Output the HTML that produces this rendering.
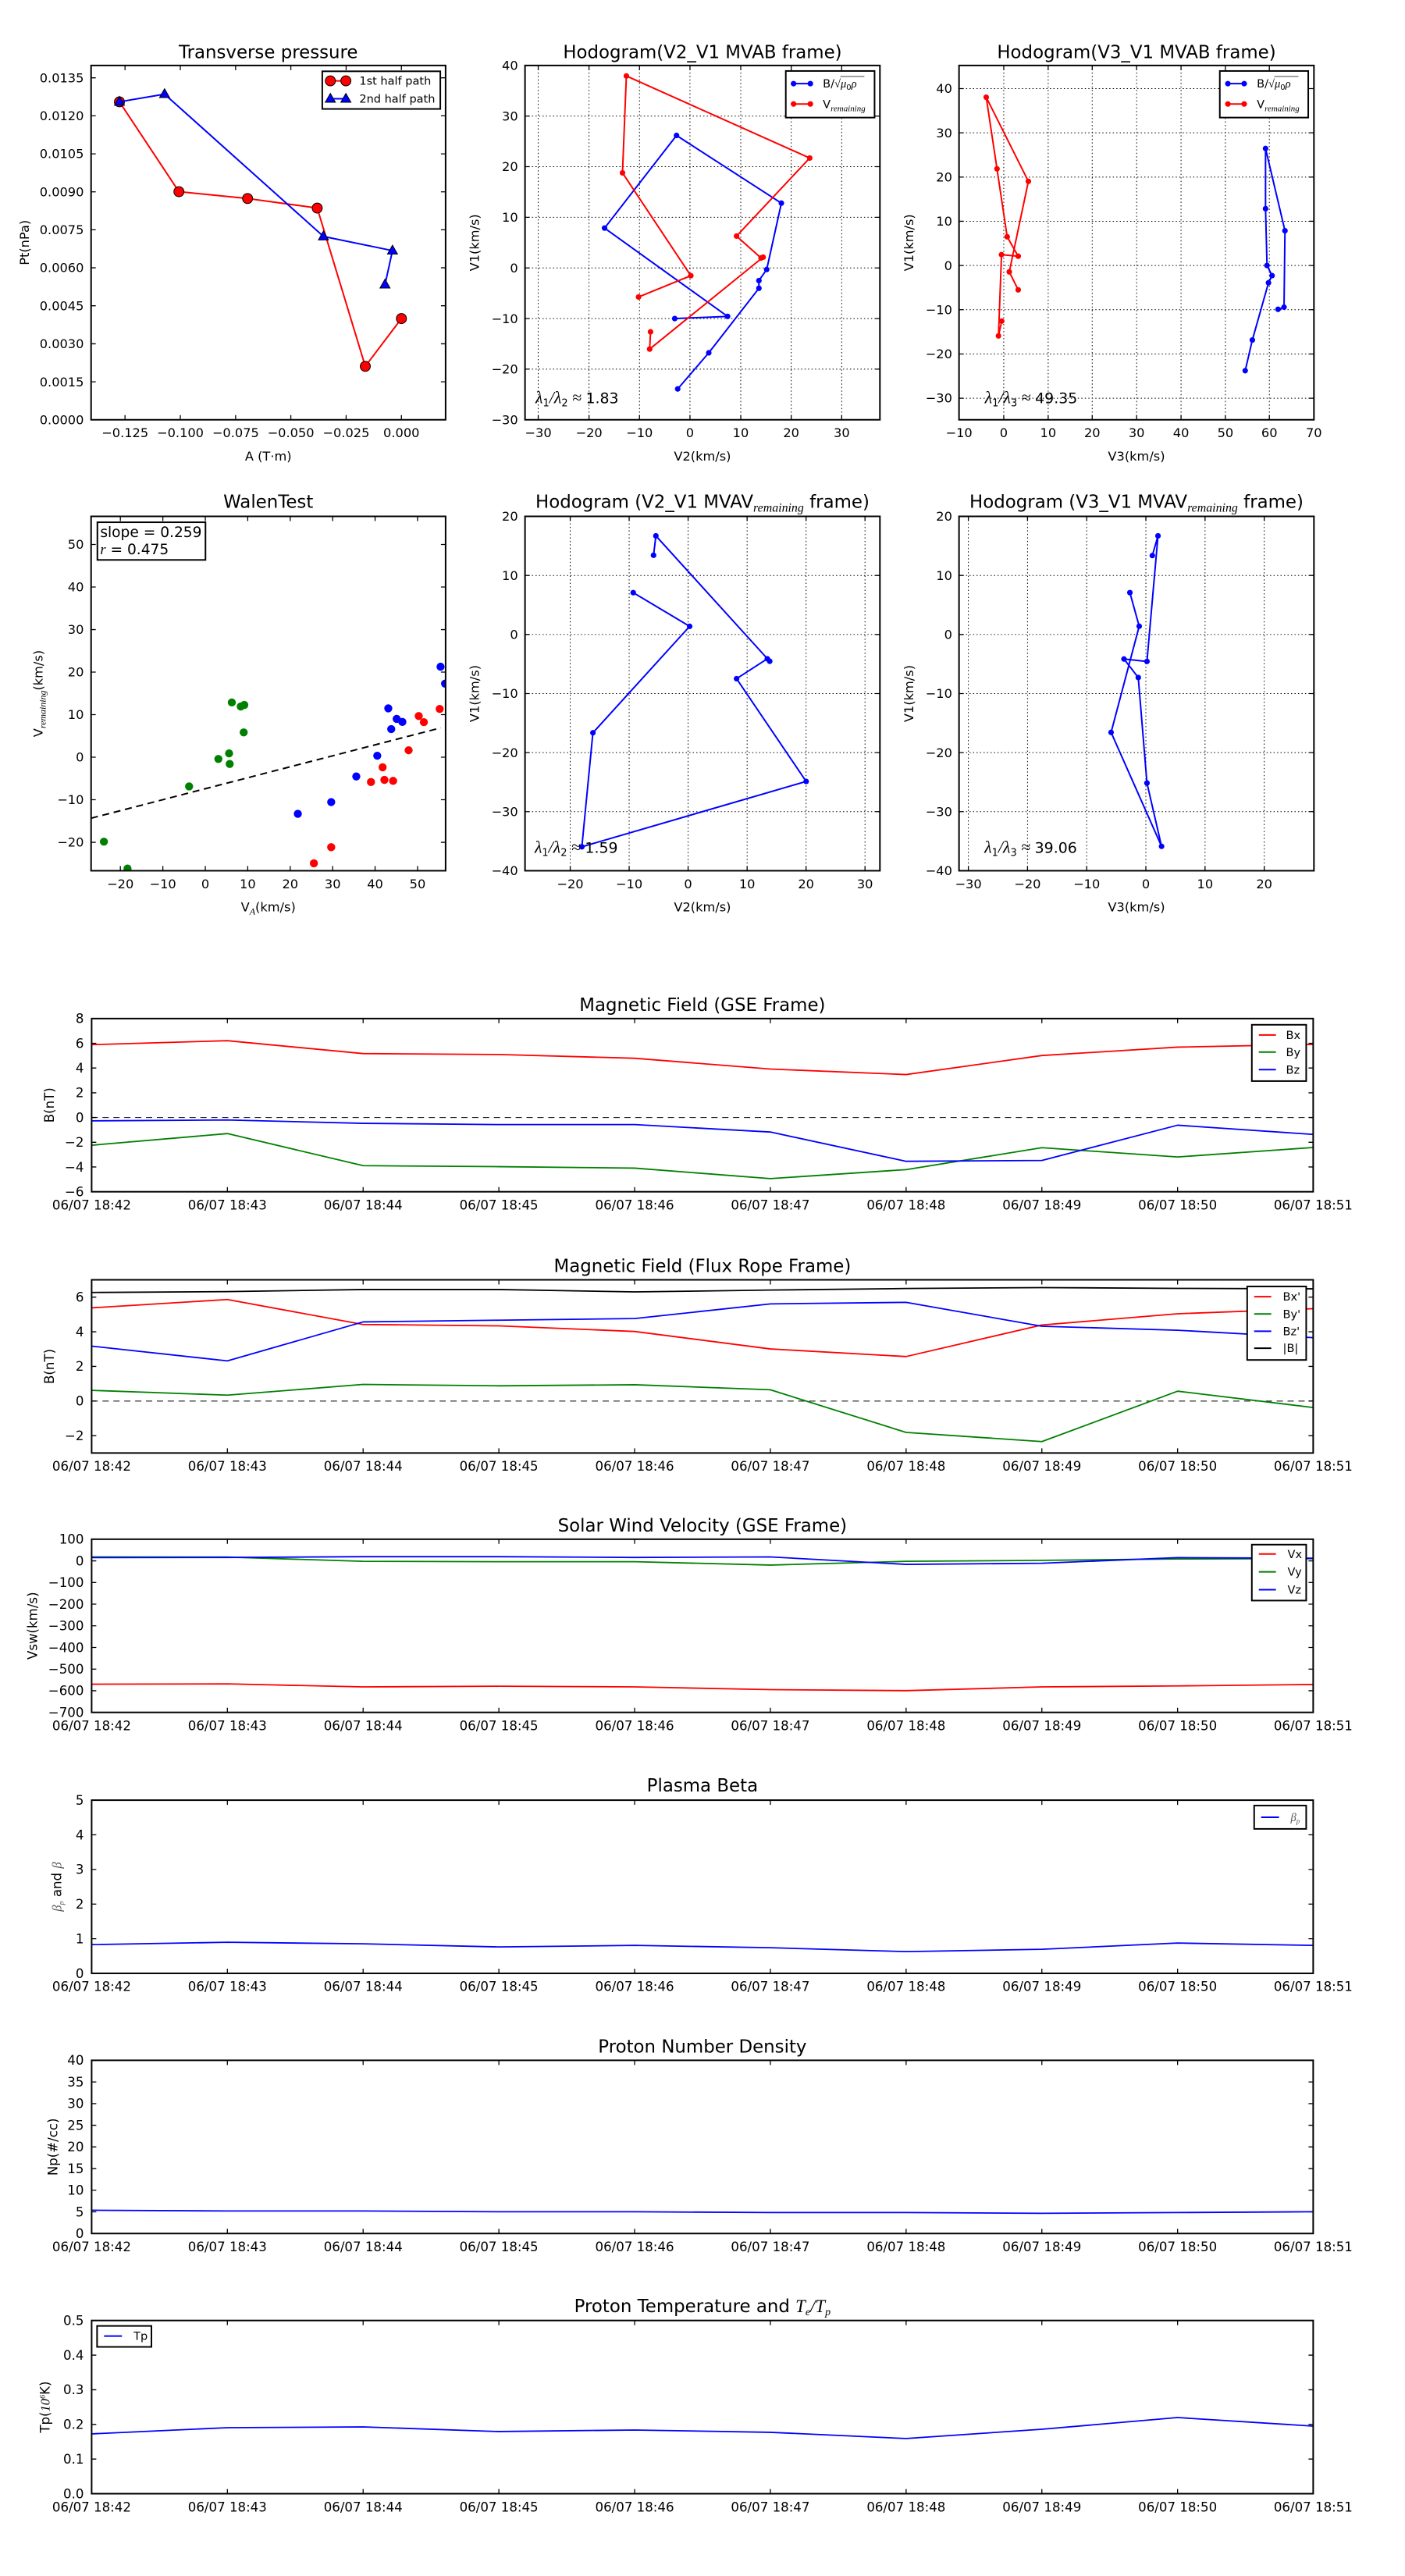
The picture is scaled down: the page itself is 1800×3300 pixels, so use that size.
<!DOCTYPE html>
<html><head><meta charset="utf-8"><style>
html,body{margin:0;padding:0;background:#fff;}
svg{display:block;}
text{font-family:"DejaVu Sans","Liberation Sans",sans-serif;fill:#000;}
.t{font-size:16.3px}
.tt{font-size:23px}
.ts{font-size:16.7px}
.lg{font-size:14.6px}
.lam{font-size:19px}
.m{font-family:"Liberation Serif","DejaVu Serif",serif;font-style:italic}
.sp{fill:none;stroke:#000;stroke-width:2}
.tk{fill:none;stroke:#000;stroke-width:1.3}
.gr{fill:none;stroke:#000;stroke-width:1;stroke-dasharray:1.5 3}
.ln{fill:none;stroke-width:2;stroke-linejoin:round}
.l2{fill:none;stroke-width:1.8;stroke-linejoin:round}
.zd{fill:none;stroke:#000;stroke-width:1;stroke-dasharray:8 6}
</style></head><body>
<svg width="1800" height="3300" viewBox="0 0 1800 3300" xmlns="http://www.w3.org/2000/svg">
<defs>
<path id="tri" d="M0,-7L6.5,4.5L-6.5,4.5Z"/>
<clipPath id="cw"><rect x="117.3" y="661.7" width="456.5" height="456.3"/></clipPath>
</defs>
<rect width="1800" height="3300" fill="#fff"/>

<!-- ===== Panel 1: Transverse pressure ===== -->
<g transform="scale(0.9949)">
<text class="tt" x="345.5" y="66.8" dy=".35em" text-anchor="middle">Transverse pressure</text>
<path class="tk" d="M161 540.5v-6M161 84.3v6M232.2 540.5v-6M232.2 84.3v6M303.4 540.5v-6M303.4 84.3v6M374.5 540.5v-6M374.5 84.3v6M445.7 540.5v-6M445.7 84.3v6M516.9 540.5v-6M516.9 84.3v6M117.3 491.6h6M573.8 491.6h-6M117.3 442.7h6M573.8 442.7h-6M117.3 393.7h6M573.8 393.7h-6M117.3 344.8h6M573.8 344.8h-6M117.3 295.9h6M573.8 295.9h-6M117.3 247h6M573.8 247h-6M117.3 198.1h6M573.8 198.1h-6M117.3 149.1h6M573.8 149.1h-6M117.3 100.2h6M573.8 100.2h-6"/>
<g class="t" text-anchor="middle">
<text x="161" y="557.2" dy=".35em">−0.125</text>
<text x="232.2" y="557.2" dy=".35em">−0.100</text>
<text x="303.4" y="557.2" dy=".35em">−0.075</text>
<text x="374.5" y="557.2" dy=".35em">−0.050</text>
<text x="445.7" y="557.2" dy=".35em">−0.025</text>
<text x="516.9" y="557.2" dy=".35em">0.000</text>
</g>
<g class="t" text-anchor="end">
<text x="108" y="540.5" dy=".35em">0.0000</text>
<text x="108" y="491.6" dy=".35em">0.0015</text>
<text x="108" y="442.7" dy=".35em">0.0030</text>
<text x="108" y="393.7" dy=".35em">0.0045</text>
<text x="108" y="344.8" dy=".35em">0.0060</text>
<text x="108" y="295.9" dy=".35em">0.0075</text>
<text x="108" y="247" dy=".35em">0.0090</text>
<text x="108" y="198.1" dy=".35em">0.0105</text>
<text x="108" y="149.1" dy=".35em">0.0120</text>
<text x="108" y="100.2" dy=".35em">0.0135</text>
</g>
<text class="t" x="345.5" y="587.4" dy=".35em" text-anchor="middle">A (T·m)</text>
<text class="t" transform="translate(31.5,312.4) rotate(-90)" dy=".35em" text-anchor="middle">Pt(nPa)</text>
<polyline class="ln" stroke="#f00" points="153.8,131.1 230.4,246.8 318.8,255.6 408.5,267.9 470.4,471.7 516.9,410.2"/>
<g fill="#f00" stroke="#000" stroke-width="1">
<circle cx="153.8" cy="131.1" r="6.5"/><circle cx="230.4" cy="246.8" r="6.5"/><circle cx="318.8" cy="255.6" r="6.5"/><circle cx="408.5" cy="267.9" r="6.5"/><circle cx="470.4" cy="471.7" r="6.5"/><circle cx="516.9" cy="410.2" r="6.5"/>
</g>
<polyline class="ln" stroke="#00f" points="153.8,131.1 211.9,121.2 416.5,304.4 505.4,322.7 495.8,366.4"/>
<g fill="#00f" stroke="#000" stroke-width="1">
<use href="#tri" x="153.8" y="131.1"/><use href="#tri" x="211.9" y="121.2"/><use href="#tri" x="416.5" y="304.4"/><use href="#tri" x="505.4" y="322.7"/><use href="#tri" x="495.8" y="366.4"/>
</g>
<rect class="sp" x="117.3" y="84.3" width="456.5" height="456.2"/>
<rect x="415" y="91.8" width="152" height="48.5" fill="#fff" stroke="#000" stroke-width="2"/>
<line x1="425.4" y1="104.1" x2="445.4" y2="104.1" stroke="#f00" stroke-width="2"/>
<circle cx="425.4" cy="104.1" r="6.5" fill="#f00" stroke="#000"/><circle cx="445.4" cy="104.1" r="6.5" fill="#f00" stroke="#000"/>
<text class="lg" x="462.7" y="104.1" dy=".35em">1st half path</text>
<line x1="425.4" y1="127.2" x2="445.4" y2="127.2" stroke="#00f" stroke-width="2"/>
<use href="#tri" x="425.4" y="127.2" fill="#00f" stroke="#000"/><use href="#tri" x="445.4" y="127.2" fill="#00f" stroke="#000"/>
<text class="lg" x="462.7" y="127.2" dy=".35em">2nd half path</text>
</g>

<!-- ===== Panel 2: Hodogram V2_V1 MVAB ===== -->
<g transform="translate(600,0) scale(0.9949) translate(-600,0)">
<text class="tt" x="901.5" y="66.8" dy=".35em" text-anchor="middle">Hodogram(V2_V1 MVAB frame)</text>
<path class="gr" d="M690 84.3V540.5M755.4 84.3V540.5M820.4 84.3V540.5M885.4 84.3V540.5M950.8 84.3V540.5M1015.8 84.3V540.5M1080.8 84.3V540.5M673 149.5H1130M673 214.6H1130M673 279.8H1130M673 345H1130M673 410.2H1130M673 475.3H1130"/>
<path class="tk" d="M690 540.5v-6M690 84.3v6M755.4 540.5v-6M755.4 84.3v6M820.4 540.5v-6M820.4 84.3v6M885.4 540.5v-6M885.4 84.3v6M950.8 540.5v-6M950.8 84.3v6M1015.8 540.5v-6M1015.8 84.3v6M1080.8 540.5v-6M1080.8 84.3v6M673 149.5h6M1130 149.5h-6M673 214.6h6M1130 214.6h-6M673 279.8h6M1130 279.8h-6M673 345h6M1130 345h-6M673 410.2h6M1130 410.2h-6M673 475.3h6M1130 475.3h-6"/>
<g class="t" text-anchor="middle">
<text x="690" y="557.2" dy=".35em">−30</text><text x="755.4" y="557.2" dy=".35em">−20</text><text x="820.4" y="557.2" dy=".35em">−10</text><text x="885.4" y="557.2" dy=".35em">0</text><text x="950.8" y="557.2" dy=".35em">10</text><text x="1015.8" y="557.2" dy=".35em">20</text><text x="1080.8" y="557.2" dy=".35em">30</text>
</g>
<g class="t" text-anchor="end">
<text x="664" y="84.3" dy=".35em">40</text><text x="664" y="149.5" dy=".35em">30</text><text x="664" y="214.6" dy=".35em">20</text><text x="664" y="279.8" dy=".35em">10</text><text x="664" y="345" dy=".35em">0</text><text x="664" y="410.2" dy=".35em">−10</text><text x="664" y="475.3" dy=".35em">−20</text><text x="664" y="540.5" dy=".35em">−30</text>
</g>
<text class="t" x="901.5" y="587.4" dy=".35em" text-anchor="middle">V2(km/s)</text>
<text class="t" transform="translate(607.7,312.4) rotate(-90)" dy=".35em" text-anchor="middle">V1(km/s)</text>
<polyline class="ln" stroke="#00f" points="865.8,410.2 933.8,407.4 775.4,293.7 868.1,174.4 1003.1,261.6 984.2,347 974.2,361.3 974.2,371.2 909.6,454.3 869.6,500.8"/>
<g fill="#00f"><circle cx="865.8" cy="410.2" r="3.6"/><circle cx="933.8" cy="407.4" r="3.6"/><circle cx="775.4" cy="293.7" r="3.6"/><circle cx="868.1" cy="174.4" r="3.6"/><circle cx="1003.1" cy="261.6" r="3.6"/><circle cx="984.2" cy="347" r="3.6"/><circle cx="974.2" cy="361.3" r="3.6"/><circle cx="974.2" cy="371.2" r="3.6"/><circle cx="909.6" cy="454.3" r="3.6"/><circle cx="869.6" cy="500.8" r="3.6"/></g>
<polyline class="ln" stroke="#f00" points="834.6,427.3 833.5,449.5 979.6,331.1 976.9,332.2 945.4,304 1039.6,203.5 803.5,97.8 798.5,222.6 886.5,355 819.2,382.4"/>
<g fill="#f00"><circle cx="834.6" cy="427.3" r="3.6"/><circle cx="833.5" cy="449.5" r="3.6"/><circle cx="979.6" cy="331.1" r="3.6"/><circle cx="976.9" cy="332.2" r="3.6"/><circle cx="945.4" cy="304" r="3.6"/><circle cx="1039.6" cy="203.5" r="3.6"/><circle cx="803.5" cy="97.8" r="3.6"/><circle cx="798.5" cy="222.6" r="3.6"/><circle cx="886.5" cy="355" r="3.6"/><circle cx="819.2" cy="382.4" r="3.6"/></g>
<text class="lam" x="686.5" y="512.7" dy=".35em"><tspan class="m" font-size="22">λ</tspan><tspan font-size="13" dy="4">1</tspan><tspan class="m" font-size="22" dy="-4">/λ</tspan><tspan font-size="13" dy="4">2</tspan><tspan class="m" font-size="22" dy="-4"> ≈ </tspan>1.83</text>
<rect class="sp" x="673" y="84.3" width="457" height="456.2"/>
<rect x="1008.8" y="91.4" width="114.3" height="60" fill="#fff" stroke="#000" stroke-width="2"/>
<line x1="1018.8" y1="107.7" x2="1040.4" y2="107.7" stroke="#00f" stroke-width="2"/>
<circle cx="1018.8" cy="107.7" r="3.6" fill="#00f"/><circle cx="1040.4" cy="107.7" r="3.6" fill="#00f"/>
<text class="lg" x="1056.5" y="107.7" dy=".35em">B/<tspan class="m" font-style="normal">√</tspan><tspan class="m">μ</tspan><tspan font-size="10" dy="3">0</tspan><tspan class="m" dy="-3">ρ</tspan></text>
<line x1="1079" y1="98.5" x2="1110" y2="98.5" stroke="#000" stroke-width="0.8"/>
<line x1="1018.8" y1="133.9" x2="1040.4" y2="133.9" stroke="#f00" stroke-width="2"/>
<circle cx="1018.8" cy="133.9" r="3.6" fill="#f00"/><circle cx="1040.4" cy="133.9" r="3.6" fill="#f00"/>
<text class="lg" x="1056.5" y="133.9" dy=".35em">V<tspan class="m" font-size="11" dy="4">remaining</tspan></text>
</g>

<!-- ===== Panel 3: Hodogram V3_V1 MVAB ===== -->
<g transform="translate(1200,0) scale(0.9949) translate(-1200,0)">
<text class="tt" x="1457.3" y="66.8" dy=".35em" text-anchor="middle">Hodogram(V3_V1 MVAB frame)</text>
<path class="gr" d="M1286.4 84.3V540.5M1343.6 84.3V540.5M1400.3 84.3V540.5M1457.5 84.3V540.5M1514.7 84.3V540.5M1571.8 84.3V540.5M1628.4 84.3V540.5M1228.8 114.1H1685.8M1228.8 171H1685.8M1228.8 228H1685.8M1228.8 284.9H1685.8M1228.8 341.9H1685.8M1228.8 398.8H1685.8M1228.8 455.8H1685.8M1228.8 512.7H1685.8"/>
<path class="tk" d="M1286.4 540.5v-6M1286.4 84.3v6M1343.6 540.5v-6M1343.6 84.3v6M1400.3 540.5v-6M1400.3 84.3v6M1457.5 540.5v-6M1457.5 84.3v6M1514.7 540.5v-6M1514.7 84.3v6M1571.8 540.5v-6M1571.8 84.3v6M1628.4 540.5v-6M1628.4 84.3v6M1228.8 114.1h6M1685.8 114.1h-6M1228.8 171h6M1685.8 171h-6M1228.8 228h6M1685.8 228h-6M1228.8 284.9h6M1685.8 284.9h-6M1228.8 341.9h6M1685.8 341.9h-6M1228.8 398.8h6M1685.8 398.8h-6M1228.8 455.8h6M1685.8 455.8h-6M1228.8 512.7h6M1685.8 512.7h-6"/>
<g class="t" text-anchor="middle">
<text x="1228.8" y="557.2" dy=".35em">−10</text><text x="1286.4" y="557.2" dy=".35em">0</text><text x="1343.6" y="557.2" dy=".35em">10</text><text x="1400.3" y="557.2" dy=".35em">20</text><text x="1457.5" y="557.2" dy=".35em">30</text><text x="1514.7" y="557.2" dy=".35em">40</text><text x="1571.8" y="557.2" dy=".35em">50</text><text x="1628.4" y="557.2" dy=".35em">60</text><text x="1685.8" y="557.2" dy=".35em">70</text>
</g>
<g class="t" text-anchor="end">
<text x="1220" y="114.1" dy=".35em">40</text><text x="1220" y="171" dy=".35em">30</text><text x="1220" y="228" dy=".35em">20</text><text x="1220" y="284.9" dy=".35em">10</text><text x="1220" y="341.9" dy=".35em">0</text><text x="1220" y="398.8" dy=".35em">−10</text><text x="1220" y="455.8" dy=".35em">−20</text><text x="1220" y="512.7" dy=".35em">−30</text>
</g>
<text class="t" x="1457.3" y="587.4" dy=".35em" text-anchor="middle">V3(km/s)</text>
<text class="t" transform="translate(1164.2,312.4) rotate(-90)" dy=".35em" text-anchor="middle">V1(km/s)</text>
<polyline class="ln" stroke="#00f" points="1639.6,398.3 1647.3,395.5 1648.5,297.1 1623.5,191.2 1623.5,268.7 1625.4,341.8 1631.9,354.9 1627.3,364.1 1606.5,437.8 1597.3,477.3"/>
<g fill="#00f"><circle cx="1639.6" cy="398.3" r="3.6"/><circle cx="1647.3" cy="395.5" r="3.6"/><circle cx="1648.5" cy="297.1" r="3.6"/><circle cx="1623.5" cy="191.2" r="3.6"/><circle cx="1623.5" cy="268.7" r="3.6"/><circle cx="1625.4" cy="341.8" r="3.6"/><circle cx="1631.9" cy="354.9" r="3.6"/><circle cx="1627.3" cy="364.1" r="3.6"/><circle cx="1606.5" cy="437.8" r="3.6"/><circle cx="1597.3" cy="477.3" r="3.6"/></g>
<polyline class="ln" stroke="#f00" points="1283.8,413.4 1279.6,432.5 1283.5,327.9 1305,329.9 1290.8,304.9 1277.7,217.4 1263.8,125.2 1318.1,233.5 1293.5,350.1 1305,373.2"/>
<g fill="#f00"><circle cx="1283.8" cy="413.4" r="3.6"/><circle cx="1279.6" cy="432.5" r="3.6"/><circle cx="1283.5" cy="327.9" r="3.6"/><circle cx="1305" cy="329.9" r="3.6"/><circle cx="1290.8" cy="304.9" r="3.6"/><circle cx="1277.7" cy="217.4" r="3.6"/><circle cx="1263.8" cy="125.2" r="3.6"/><circle cx="1318.1" cy="233.5" r="3.6"/><circle cx="1293.5" cy="350.1" r="3.6"/><circle cx="1305" cy="373.2" r="3.6"/></g>
<text class="lam" x="1262" y="512.7" dy=".35em"><tspan class="m" font-size="22">λ</tspan><tspan font-size="13" dy="4">1</tspan><tspan class="m" font-size="22" dy="-4">/λ</tspan><tspan font-size="13" dy="4">3</tspan><tspan class="m" font-size="22" dy="-4"> ≈ </tspan>49.35</text>
<rect class="sp" x="1228.8" y="84.3" width="457" height="456.2"/>
<rect x="1564.6" y="91.4" width="113.9" height="60" fill="#fff" stroke="#000" stroke-width="2"/>
<line x1="1575" y1="107.7" x2="1596" y2="107.7" stroke="#00f" stroke-width="2"/>
<circle cx="1575" cy="107.7" r="3.6" fill="#00f"/><circle cx="1596" cy="107.7" r="3.6" fill="#00f"/>
<text class="lg" x="1612.3" y="107.7" dy=".35em">B/<tspan class="m" font-style="normal">√</tspan><tspan class="m">μ</tspan><tspan font-size="10" dy="3">0</tspan><tspan class="m" dy="-3">ρ</tspan></text>
<line x1="1634.8" y1="98.5" x2="1665.8" y2="98.5" stroke="#000" stroke-width="0.8"/>
<line x1="1575" y1="133.9" x2="1596" y2="133.9" stroke="#f00" stroke-width="2"/>
<circle cx="1575" cy="133.9" r="3.6" fill="#f00"/><circle cx="1596" cy="133.9" r="3.6" fill="#f00"/>
<text class="lg" x="1612.3" y="133.9" dy=".35em">V<tspan class="m" font-size="11" dy="4">remaining</tspan></text>
</g>

<!-- ===== Panel 4: WalenTest ===== -->
<g transform="translate(0,620) scale(0.9949) translate(0,-620)">
<text class="tt" x="345.5" y="642.7" dy=".35em" text-anchor="middle">WalenTest</text>
<path class="tk" d="M155 1118v-6M155 661.7v6M209.7 1118v-6M209.7 661.7v6M264.4 1118v-6M264.4 661.7v6M319 1118v-6M319 661.7v6M373.7 1118v-6M373.7 661.7v6M428.4 1118v-6M428.4 661.7v6M483 1118v-6M483 661.7v6M537.7 1118v-6M537.7 661.7v6M117.3 697.9h6M573.8 697.9h-6M117.3 752.7h6M573.8 752.7h-6M117.3 807.5h6M573.8 807.5h-6M117.3 862.2h6M573.8 862.2h-6M117.3 917h6M573.8 917h-6M117.3 971.8h6M573.8 971.8h-6M117.3 1026.6h6M573.8 1026.6h-6M117.3 1081.4h6M573.8 1081.4h-6"/>
<g class="t" text-anchor="middle">
<text x="155" y="1135.1" dy=".35em">−20</text><text x="209.7" y="1135.1" dy=".35em">−10</text><text x="264.4" y="1135.1" dy=".35em">0</text><text x="319" y="1135.1" dy=".35em">10</text><text x="373.7" y="1135.1" dy=".35em">20</text><text x="428.4" y="1135.1" dy=".35em">30</text><text x="483" y="1135.1" dy=".35em">40</text><text x="537.7" y="1135.1" dy=".35em">50</text>
</g>
<g class="t" text-anchor="end">
<text x="108" y="697.9" dy=".35em">50</text><text x="108" y="752.7" dy=".35em">40</text><text x="108" y="807.5" dy=".35em">30</text><text x="108" y="862.2" dy=".35em">20</text><text x="108" y="917" dy=".35em">10</text><text x="108" y="971.8" dy=".35em">0</text><text x="108" y="1026.6" dy=".35em">−10</text><text x="108" y="1081.4" dy=".35em">−20</text>
</g>
<text class="t" x="345.5" y="1164.5" dy=".35em" text-anchor="middle">V<tspan class="m" font-size="12" dy="4">A</tspan><tspan dy="-4">(km/s)</tspan></text>
<text class="t" transform="translate(49.2,889.9) rotate(-90)" dy=".35em" text-anchor="middle">V<tspan class="m" font-size="12" dy="4">remaining</tspan><tspan dy="-4">(km/s)</tspan></text>
<g clip-path="url(#cw)">
<g fill="#008000"><circle cx="133.8" cy="1080.6" r="5.2"/><circle cx="164.2" cy="1115.2" r="5.2"/><circle cx="243.5" cy="1009.4" r="5.2"/><circle cx="281.2" cy="974.1" r="5.2"/><circle cx="295" cy="966.9" r="5.2"/><circle cx="295.8" cy="980.5" r="5.2"/><circle cx="298.5" cy="901.3" r="5.2"/><circle cx="310" cy="906.5" r="5.2"/><circle cx="314.6" cy="904.5" r="5.2"/><circle cx="313.8" cy="939.9" r="5.2"/></g>
<g fill="#00f"><circle cx="383.5" cy="1044.7" r="5.2"/><circle cx="426.5" cy="1029.6" r="5.2"/><circle cx="458.8" cy="996.6" r="5.2"/><circle cx="485.8" cy="969.9" r="5.2"/><circle cx="500" cy="908.9" r="5.2"/><circle cx="503.8" cy="935.6" r="5.2"/><circle cx="510.8" cy="922.5" r="5.2"/><circle cx="518.1" cy="926.4" r="5.2"/><circle cx="567.3" cy="855.3" r="5.2"/><circle cx="573.1" cy="877.1" r="5.2"/></g>
<g fill="#f00"><circle cx="404.2" cy="1108.4" r="5.2"/><circle cx="426.5" cy="1087.7" r="5.2"/><circle cx="477.7" cy="1003.8" r="5.2"/><circle cx="492.7" cy="984.8" r="5.2"/><circle cx="495" cy="1001" r="5.2"/><circle cx="506.2" cy="1002.3" r="5.2"/><circle cx="526.2" cy="962.9" r="5.2"/><circle cx="539.2" cy="918.8" r="5.2"/><circle cx="545.8" cy="926.7" r="5.2"/><circle cx="566.2" cy="909.7" r="5.2"/></g>
<line x1="117.3" y1="1050.4" x2="567.7" y2="934" stroke="#000" stroke-width="2" stroke-dasharray="9 6"/>
</g>
<rect class="sp" x="117.3" y="661.7" width="456.5" height="456.3"/>
<rect x="125.4" y="669.3" width="139.2" height="48.5" fill="#fff" stroke="#000" stroke-width="2"/>
<text x="129" y="681.6" dy=".35em" font-size="18.7">slope = 0.259</text>
<text x="129" y="703.9" dy=".35em" font-size="18.7"><tspan class="m">r</tspan> = 0.475</text>
</g>

<!-- ===== Panel 5: Hodogram V2_V1 MVAV ===== -->
<g transform="translate(600,620) scale(0.9949) translate(-600,-620)">
<text class="tt" x="901.5" y="642.7" dy=".35em" text-anchor="middle">Hodogram (V2_V1 MVAV<tspan class="m" font-size="16" dy="5">remaining</tspan><tspan dy="-5"> frame)</tspan></text>
<path class="gr" d="M731.2 661.7V1118M807.1 661.7V1118M883 661.7V1118M959 661.7V1118M1034.9 661.7V1118M1110.8 661.7V1118M673 737.8H1130M673 813.8H1130M673 889.9H1130M673 965.9H1130M673 1041.9H1130"/>
<path class="tk" d="M731.2 1118v-6M731.2 661.7v6M807.1 1118v-6M807.1 661.7v6M883 1118v-6M883 661.7v6M959 1118v-6M959 661.7v6M1034.9 1118v-6M1034.9 661.7v6M1110.8 1118v-6M1110.8 661.7v6M673 737.8h6M1130 737.8h-6M673 813.8h6M1130 813.8h-6M673 889.9h6M1130 889.9h-6M673 965.9h6M1130 965.9h-6M673 1041.9h6M1130 1041.9h-6"/>
<g class="t" text-anchor="middle">
<text x="731.2" y="1135.1" dy=".35em">−20</text><text x="807.1" y="1135.1" dy=".35em">−10</text><text x="883" y="1135.1" dy=".35em">0</text><text x="959" y="1135.1" dy=".35em">10</text><text x="1034.9" y="1135.1" dy=".35em">20</text><text x="1110.8" y="1135.1" dy=".35em">30</text>
</g>
<g class="t" text-anchor="end">
<text x="664" y="661.7" dy=".35em">20</text><text x="664" y="737.8" dy=".35em">10</text><text x="664" y="813.8" dy=".35em">0</text><text x="664" y="889.9" dy=".35em">−10</text><text x="664" y="965.9" dy=".35em">−20</text><text x="664" y="1041.9" dy=".35em">−30</text><text x="664" y="1118" dy=".35em">−40</text>
</g>
<text class="t" x="901.5" y="1164.5" dy=".35em" text-anchor="middle">V2(km/s)</text>
<text class="t" transform="translate(607.7,889.9) rotate(-90)" dy=".35em" text-anchor="middle">V1(km/s)</text>
<polyline class="ln" stroke="#00f" points="838.5,711.8 841.5,686.8 988.1,848.3 985,845.1 945.4,870.7 1035,1003 746.2,1087.2 760.4,940.4 885,803.3 812.3,759.9"/>
<g fill="#00f"><circle cx="838.5" cy="711.8" r="3.6"/><circle cx="841.5" cy="686.8" r="3.6"/><circle cx="988.1" cy="848.3" r="3.6"/><circle cx="985" cy="845.1" r="3.6"/><circle cx="945.4" cy="870.7" r="3.6"/><circle cx="1035" cy="1003" r="3.6"/><circle cx="746.2" cy="1087.2" r="3.6"/><circle cx="760.4" cy="940.4" r="3.6"/><circle cx="885" cy="803.3" r="3.6"/><circle cx="812.3" cy="759.9" r="3.6"/></g>
<text class="lam" x="685.4" y="1088.2" dy=".35em"><tspan class="m" font-size="22">λ</tspan><tspan font-size="13" dy="4">1</tspan><tspan class="m" font-size="22" dy="-4">/λ</tspan><tspan font-size="13" dy="4">2</tspan><tspan class="m" font-size="22" dy="-4"> ≈ </tspan>1.59</text>
<rect class="sp" x="673" y="661.7" width="457" height="456.3"/>
</g>

<!-- ===== Panel 6: Hodogram V3_V1 MVAV ===== -->
<g transform="translate(1200,620) scale(0.9949) translate(-1200,-620)">
<text class="tt" x="1457.3" y="642.7" dy=".35em" text-anchor="middle">Hodogram (V3_V1 MVAV<tspan class="m" font-size="16" dy="5">remaining</tspan><tspan dy="-5"> frame)</tspan></text>
<path class="gr" d="M1240.8 661.7V1118M1317 661.7V1118M1393.2 661.7V1118M1469.4 661.7V1118M1545.6 661.7V1118M1621.8 661.7V1118M1228.8 737.8H1685.8M1228.8 813.8H1685.8M1228.8 889.9H1685.8M1228.8 965.9H1685.8M1228.8 1041.9H1685.8"/>
<path class="tk" d="M1240.8 1118v-6M1240.8 661.7v6M1317 1118v-6M1317 661.7v6M1393.2 1118v-6M1393.2 661.7v6M1469.4 1118v-6M1469.4 661.7v6M1545.6 1118v-6M1545.6 661.7v6M1621.8 1118v-6M1621.8 661.7v6M1228.8 737.8h6M1685.8 737.8h-6M1228.8 813.8h6M1685.8 813.8h-6M1228.8 889.9h6M1685.8 889.9h-6M1228.8 965.9h6M1685.8 965.9h-6M1228.8 1041.9h6M1685.8 1041.9h-6"/>
<g class="t" text-anchor="middle">
<text x="1240.8" y="1135.1" dy=".35em">−30</text><text x="1317" y="1135.1" dy=".35em">−20</text><text x="1393.2" y="1135.1" dy=".35em">−10</text><text x="1469.4" y="1135.1" dy=".35em">0</text><text x="1545.6" y="1135.1" dy=".35em">10</text><text x="1621.8" y="1135.1" dy=".35em">20</text>
</g>
<g class="t" text-anchor="end">
<text x="1220" y="661.7" dy=".35em">20</text><text x="1220" y="737.8" dy=".35em">10</text><text x="1220" y="813.8" dy=".35em">0</text><text x="1220" y="889.9" dy=".35em">−10</text><text x="1220" y="965.9" dy=".35em">−20</text><text x="1220" y="1041.9" dy=".35em">−30</text><text x="1220" y="1118" dy=".35em">−40</text>
</g>
<text class="t" x="1457.3" y="1164.5" dy=".35em" text-anchor="middle">V3(km/s)</text>
<text class="t" transform="translate(1164.2,889.9) rotate(-90)" dy=".35em" text-anchor="middle">V1(km/s)</text>
<polyline class="ln" stroke="#00f" points="1477.7,712.2 1485,686.8 1470.8,848.5 1441.2,845.4 1459.6,869.2 1470.8,1005.1 1489.6,1086.6 1424.6,939.9 1460.8,803.2 1448.8,759.9"/>
<g fill="#00f"><circle cx="1477.7" cy="712.2" r="3.6"/><circle cx="1485" cy="686.8" r="3.6"/><circle cx="1470.8" cy="848.5" r="3.6"/><circle cx="1441.2" cy="845.4" r="3.6"/><circle cx="1459.6" cy="869.2" r="3.6"/><circle cx="1470.8" cy="1005.1" r="3.6"/><circle cx="1489.6" cy="1086.6" r="3.6"/><circle cx="1424.6" cy="939.9" r="3.6"/><circle cx="1460.8" cy="803.2" r="3.6"/><circle cx="1448.8" cy="759.9" r="3.6"/></g>
<text class="lam" x="1261.5" y="1088.2" dy=".35em"><tspan class="m" font-size="22">λ</tspan><tspan font-size="13" dy="4">1</tspan><tspan class="m" font-size="22" dy="-4">/λ</tspan><tspan font-size="13" dy="4">3</tspan><tspan class="m" font-size="22" dy="-4"> ≈ </tspan>39.06</text>
<rect class="sp" x="1228.8" y="661.7" width="457" height="456.3"/>
</g>

<g transform="translate(0,1740) scale(0.9949) translate(0,-1740)">
<!-- ===== TS A: Magnetic Field (GSE) ===== -->
<g transform="translate(0,-1.4)">
<text class="tt" x="904.5" y="1286" dy=".35em" text-anchor="middle">Magnetic Field (GSE Frame)</text>
<path class="tk" d="M292.8 1527v-6M292.8 1304v6M467.6 1527v-6M467.6 1304v6M642.4 1527v-6M642.4 1304v6M817.2 1527v-6M817.2 1304v6M992 1527v-6M992 1304v6M1166.8 1527v-6M1166.8 1304v6M1341.6 1527v-6M1341.6 1304v6M1516.4 1527v-6M1516.4 1304v6M118 1335.9h6M1691 1335.9h-6M118 1367.7h6M1691 1367.7h-6M118 1399.6h6M1691 1399.6h-6M118 1431.4h6M1691 1431.4h-6M118 1463.3h6M1691 1463.3h-6M118 1495.1h6M1691 1495.1h-6"/>
<g class="ts" text-anchor="end">
<text x="108" y="1304" dy=".35em">8</text><text x="108" y="1335.9" dy=".35em">6</text><text x="108" y="1367.7" dy=".35em">4</text><text x="108" y="1399.6" dy=".35em">2</text><text x="108" y="1431.4" dy=".35em">0</text><text x="108" y="1463.3" dy=".35em">−2</text><text x="108" y="1495.1" dy=".35em">−4</text><text x="108" y="1527" dy=".35em">−6</text>
</g>
<g class="ts" text-anchor="middle">
<text x="118" y="1544" dy=".35em">06/07 18:42</text><text x="292.8" y="1544" dy=".35em">06/07 18:43</text><text x="467.6" y="1544" dy=".35em">06/07 18:44</text><text x="642.4" y="1544" dy=".35em">06/07 18:45</text><text x="817.2" y="1544" dy=".35em">06/07 18:46</text><text x="992" y="1544" dy=".35em">06/07 18:47</text><text x="1166.8" y="1544" dy=".35em">06/07 18:48</text><text x="1341.6" y="1544" dy=".35em">06/07 18:49</text><text x="1516.4" y="1544" dy=".35em">06/07 18:50</text><text x="1691" y="1544" dy=".35em">06/07 18:51</text>
</g>
<text class="ts" transform="translate(63.5,1415.5) rotate(-90)" dy=".35em" text-anchor="middle">B(nT)</text>
<line class="zd" x1="118" y1="1431.4" x2="1691" y2="1431.4"/>
<polyline class="l2" stroke="#f00" points="118,1337.6 292.8,1332.5 467.6,1349.1 642.4,1350.3 817.2,1355.1 992,1369 1166.8,1376.1 1341.6,1351.6 1516.4,1340.8 1691,1337.3"/>
<polyline class="l2" stroke="#008000" points="118,1467.1 292.8,1452.1 467.6,1493.4 642.4,1494.7 817.2,1496.6 992,1510.1 1166.8,1498.5 1341.6,1470.3 1516.4,1482.2 1691,1470"/>
<polyline class="l2" stroke="#00f" points="118,1435.7 292.8,1434.6 467.6,1438.9 642.4,1440.5 817.2,1440.5 992,1450.1 1166.8,1487.8 1341.6,1486.7 1516.4,1441.3 1691,1453.2"/>
<rect class="sp" x="118" y="1304" width="1573" height="223"/>
<rect x="1612" y="1312" width="70" height="72.5" fill="#fff" stroke="#000" stroke-width="2"/>
<line x1="1621" y1="1325.2" x2="1643" y2="1325.2" stroke="#f00" stroke-width="2"/><text class="lg" x="1656" y="1325.2" dy=".35em">Bx</text>
<line x1="1621" y1="1347.1" x2="1643" y2="1347.1" stroke="#008000" stroke-width="2"/><text class="lg" x="1656" y="1347.1" dy=".35em">By</text>
<line x1="1621" y1="1369.8" x2="1643" y2="1369.8" stroke="#00f" stroke-width="2"/><text class="lg" x="1656" y="1369.8" dy=".35em">Bz</text>
</g>

<!-- ===== TS B: Magnetic Field (Flux Rope) ===== -->
<text class="tt" x="904.5" y="1621" dy=".35em" text-anchor="middle">Magnetic Field (Flux Rope Frame)</text>
<path class="tk" d="M292.8 1862v-6M292.8 1639v6M467.6 1862v-6M467.6 1639v6M642.4 1862v-6M642.4 1639v6M817.2 1862v-6M817.2 1639v6M992 1862v-6M992 1639v6M1166.8 1862v-6M1166.8 1639v6M1341.6 1862v-6M1341.6 1639v6M1516.4 1862v-6M1516.4 1639v6M118 1661.3h6M1691 1661.3h-6M118 1705.9h6M1691 1705.9h-6M118 1750.5h6M1691 1750.5h-6M118 1795.1h6M1691 1795.1h-6M118 1839.7h6M1691 1839.7h-6"/>
<g class="ts" text-anchor="end">
<text x="108" y="1661.3" dy=".35em">6</text><text x="108" y="1705.9" dy=".35em">4</text><text x="108" y="1750.5" dy=".35em">2</text><text x="108" y="1795.1" dy=".35em">0</text><text x="108" y="1839.7" dy=".35em">−2</text>
</g>
<g class="ts" text-anchor="middle">
<text x="118" y="1879" dy=".35em">06/07 18:42</text><text x="292.8" y="1879" dy=".35em">06/07 18:43</text><text x="467.6" y="1879" dy=".35em">06/07 18:44</text><text x="642.4" y="1879" dy=".35em">06/07 18:45</text><text x="817.2" y="1879" dy=".35em">06/07 18:46</text><text x="992" y="1879" dy=".35em">06/07 18:47</text><text x="1166.8" y="1879" dy=".35em">06/07 18:48</text><text x="1341.6" y="1879" dy=".35em">06/07 18:49</text><text x="1516.4" y="1879" dy=".35em">06/07 18:50</text><text x="1691" y="1879" dy=".35em">06/07 18:51</text>
</g>
<text class="ts" transform="translate(63.5,1750.5) rotate(-90)" dy=".35em" text-anchor="middle">B(nT)</text>
<line class="zd" x1="118" y1="1795.1" x2="1691" y2="1795.1"/>
<polyline class="l2" stroke="#f00" points="118,1675.1 292.8,1664.4 467.6,1696.5 642.4,1698.3 817.2,1705.5 992,1728 1166.8,1737.8 1341.6,1697.2 1516.4,1682.7 1691,1676.2"/>
<polyline class="l2" stroke="#008000" points="118,1781.3 292.8,1787.5 467.6,1773.7 642.4,1775.5 817.2,1774.1 992,1780.6 1166.8,1835.5 1341.6,1847.3 1516.4,1782.4 1691,1803.4"/>
<polyline class="l2" stroke="#00f" points="118,1724.4 292.8,1743.4 467.6,1693.2 642.4,1691 817.2,1688.9 992,1670 1166.8,1668 1341.6,1698.8 1516.4,1703.9 1691,1713.5"/>
<polyline class="l2" stroke="#000" points="118,1655.3 292.8,1654.2 467.6,1651.5 642.4,1651.5 817.2,1654.6 992,1652.2 1166.8,1650.2 1341.6,1649 1516.4,1650 1691,1650.6"/>
<rect class="sp" x="118" y="1639" width="1573" height="223"/>
<rect x="1606" y="1647.6" width="76" height="94.6" fill="#fff" stroke="#000" stroke-width="2"/>
<line x1="1615" y1="1660.7" x2="1637" y2="1660.7" stroke="#f00" stroke-width="2"/><text class="lg" x="1652" y="1660.7" dy=".35em">Bx'</text>
<line x1="1615" y1="1683" x2="1637" y2="1683" stroke="#008000" stroke-width="2"/><text class="lg" x="1652" y="1683" dy=".35em">By'</text>
<line x1="1615" y1="1705.2" x2="1637" y2="1705.2" stroke="#00f" stroke-width="2"/><text class="lg" x="1652" y="1705.2" dy=".35em">Bz'</text>
<line x1="1615" y1="1727.1" x2="1637" y2="1727.1" stroke="#000" stroke-width="2"/><text class="lg" x="1652" y="1727.1" dy=".35em">|B|</text>

<!-- ===== TS C: Solar Wind Velocity ===== -->
<text class="tt" x="904.5" y="1955" dy=".35em" text-anchor="middle">Solar Wind Velocity (GSE Frame)</text>
<path class="tk" d="M292.8 2196v-6M292.8 1973v6M467.6 2196v-6M467.6 1973v6M642.4 2196v-6M642.4 1973v6M817.2 2196v-6M817.2 1973v6M992 2196v-6M992 1973v6M1166.8 2196v-6M1166.8 1973v6M1341.6 2196v-6M1341.6 1973v6M1516.4 2196v-6M1516.4 1973v6M118 2000.9h6M1691 2000.9h-6M118 2028.8h6M1691 2028.8h-6M118 2056.6h6M1691 2056.6h-6M118 2084.5h6M1691 2084.5h-6M118 2112.4h6M1691 2112.4h-6M118 2140.3h6M1691 2140.3h-6M118 2168.1h6M1691 2168.1h-6"/>
<g class="ts" text-anchor="end">
<text x="108" y="1973" dy=".35em">100</text><text x="108" y="2000.9" dy=".35em">0</text><text x="108" y="2028.8" dy=".35em">−100</text><text x="108" y="2056.6" dy=".35em">−200</text><text x="108" y="2084.5" dy=".35em">−300</text><text x="108" y="2112.4" dy=".35em">−400</text><text x="108" y="2140.3" dy=".35em">−500</text><text x="108" y="2168.1" dy=".35em">−600</text><text x="108" y="2196" dy=".35em">−700</text>
</g>
<g class="ts" text-anchor="middle">
<text x="118" y="2213" dy=".35em">06/07 18:42</text><text x="292.8" y="2213" dy=".35em">06/07 18:43</text><text x="467.6" y="2213" dy=".35em">06/07 18:44</text><text x="642.4" y="2213" dy=".35em">06/07 18:45</text><text x="817.2" y="2213" dy=".35em">06/07 18:46</text><text x="992" y="2213" dy=".35em">06/07 18:47</text><text x="1166.8" y="2213" dy=".35em">06/07 18:48</text><text x="1341.6" y="2213" dy=".35em">06/07 18:49</text><text x="1516.4" y="2213" dy=".35em">06/07 18:50</text><text x="1691" y="2213" dy=".35em">06/07 18:51</text>
</g>
<text class="ts" transform="translate(42,2084.5) rotate(-90)" dy=".35em" text-anchor="middle">Vsw(km/s)</text>
<polyline class="l2" stroke="#f00" points="118,2159.7 292.8,2159.3 467.6,2163.2 642.4,2162.3 817.2,2163.2 992,2166.7 1166.8,2168 1341.6,2163.2 1516.4,2161.9 1691,2160.1"/>
<polyline class="l2" stroke="#008000" points="118,1995.8 292.8,1996 467.6,2001.5 642.4,2002 817.2,2002 992,2006.3 1166.8,2001.5 1341.6,2000.2 1516.4,1998.4 1691,1998"/>
<polyline class="l2" stroke="#00f" points="118,1996.7 292.8,1996.5 467.6,1995.5 642.4,1995.5 817.2,1996.5 992,1995.8 1166.8,2005.4 1341.6,2004 1516.4,1996.7 1691,1997.5"/>
<rect class="sp" x="118" y="1973" width="1573" height="223"/>
<rect x="1612" y="1980" width="70" height="72" fill="#fff" stroke="#000" stroke-width="2"/>
<line x1="1621" y1="1992" x2="1643" y2="1992" stroke="#f00" stroke-width="2"/><text class="lg" x="1658" y="1992" dy=".35em">Vx</text>
<line x1="1621" y1="2015" x2="1643" y2="2015" stroke="#008000" stroke-width="2"/><text class="lg" x="1658" y="2015" dy=".35em">Vy</text>
<line x1="1621" y1="2038" x2="1643" y2="2038" stroke="#00f" stroke-width="2"/><text class="lg" x="1658" y="2038" dy=".35em">Vz</text>

<!-- ===== TS D: Plasma Beta ===== -->
<text class="tt" x="904.5" y="2290" dy=".35em" text-anchor="middle">Plasma Beta</text>
<path class="tk" d="M292.8 2532v-6M292.8 2309v6M467.6 2532v-6M467.6 2309v6M642.4 2532v-6M642.4 2309v6M817.2 2532v-6M817.2 2309v6M992 2532v-6M992 2309v6M1166.8 2532v-6M1166.8 2309v6M1341.6 2532v-6M1341.6 2309v6M1516.4 2532v-6M1516.4 2309v6M118 2353.6h6M1691 2353.6h-6M118 2398.2h6M1691 2398.2h-6M118 2442.8h6M1691 2442.8h-6M118 2487.4h6M1691 2487.4h-6"/>
<g class="ts" text-anchor="end">
<text x="108" y="2309" dy=".35em">5</text><text x="108" y="2353.6" dy=".35em">4</text><text x="108" y="2398.2" dy=".35em">3</text><text x="108" y="2442.8" dy=".35em">2</text><text x="108" y="2487.4" dy=".35em">1</text><text x="108" y="2532" dy=".35em">0</text>
</g>
<g class="ts" text-anchor="middle">
<text x="118" y="2549" dy=".35em">06/07 18:42</text><text x="292.8" y="2549" dy=".35em">06/07 18:43</text><text x="467.6" y="2549" dy=".35em">06/07 18:44</text><text x="642.4" y="2549" dy=".35em">06/07 18:45</text><text x="817.2" y="2549" dy=".35em">06/07 18:46</text><text x="992" y="2549" dy=".35em">06/07 18:47</text><text x="1166.8" y="2549" dy=".35em">06/07 18:48</text><text x="1341.6" y="2549" dy=".35em">06/07 18:49</text><text x="1516.4" y="2549" dy=".35em">06/07 18:50</text><text x="1691" y="2549" dy=".35em">06/07 18:51</text>
</g>
<text class="ts" transform="translate(73,2420.5) rotate(-90)" dy=".35em" text-anchor="middle"><tspan class="m" fill="#555">β</tspan><tspan class="m" font-size="10" dy="3" fill="#555">p</tspan><tspan dy="-3"> and </tspan><tspan class="m" fill="#555">β</tspan></text>
<polyline class="l2" stroke="#00f" points="118,2495 292.8,2492 467.6,2494 642.4,2498 817.2,2496 992,2499 1166.8,2504 1341.6,2501 1516.4,2493 1691,2496"/>
<rect class="sp" x="118" y="2309" width="1573" height="223"/>
<rect x="1615" y="2316" width="67" height="30" fill="#fff" stroke="#000" stroke-width="2"/>
<line x1="1624" y1="2331" x2="1647" y2="2331" stroke="#00f" stroke-width="2"/>
<text class="lg" x="1662" y="2331" dy=".35em"><tspan class="m" fill="#555">β</tspan><tspan class="m" font-size="9" dy="3" fill="#555">p</tspan></text>

<!-- ===== TS E: Proton Number Density ===== -->
<text class="tt" x="904.5" y="2626" dy=".35em" text-anchor="middle">Proton Number Density</text>
<path class="tk" d="M292.8 2867v-6M292.8 2644v6M467.6 2867v-6M467.6 2644v6M642.4 2867v-6M642.4 2644v6M817.2 2867v-6M817.2 2644v6M992 2867v-6M992 2644v6M1166.8 2867v-6M1166.8 2644v6M1341.6 2867v-6M1341.6 2644v6M1516.4 2867v-6M1516.4 2644v6M118 2671.9h6M1691 2671.9h-6M118 2699.8h6M1691 2699.8h-6M118 2727.6h6M1691 2727.6h-6M118 2755.5h6M1691 2755.5h-6M118 2783.4h6M1691 2783.4h-6M118 2811.3h6M1691 2811.3h-6M118 2839.1h6M1691 2839.1h-6"/>
<g class="ts" text-anchor="end">
<text x="108" y="2644" dy=".35em">40</text><text x="108" y="2671.9" dy=".35em">35</text><text x="108" y="2699.8" dy=".35em">30</text><text x="108" y="2727.6" dy=".35em">25</text><text x="108" y="2755.5" dy=".35em">20</text><text x="108" y="2783.4" dy=".35em">15</text><text x="108" y="2811.3" dy=".35em">10</text><text x="108" y="2839.1" dy=".35em">5</text><text x="108" y="2867" dy=".35em">0</text>
</g>
<g class="ts" text-anchor="middle">
<text x="118" y="2884" dy=".35em">06/07 18:42</text><text x="292.8" y="2884" dy=".35em">06/07 18:43</text><text x="467.6" y="2884" dy=".35em">06/07 18:44</text><text x="642.4" y="2884" dy=".35em">06/07 18:45</text><text x="817.2" y="2884" dy=".35em">06/07 18:46</text><text x="992" y="2884" dy=".35em">06/07 18:47</text><text x="1166.8" y="2884" dy=".35em">06/07 18:48</text><text x="1341.6" y="2884" dy=".35em">06/07 18:49</text><text x="1516.4" y="2884" dy=".35em">06/07 18:50</text><text x="1691" y="2884" dy=".35em">06/07 18:51</text>
</g>
<text class="ts" transform="translate(68,2755.5) rotate(-90)" dy=".35em" text-anchor="middle">Np(#/cc)</text>
<polyline class="l2" stroke="#00f" points="118,2837 292.8,2838 467.6,2838 642.4,2839 817.2,2839 992,2840 1166.8,2840 1341.6,2841 1516.4,2840 1691,2839"/>
<rect class="sp" x="118" y="2644" width="1573" height="223"/>

<!-- ===== TS F: Proton Temperature ===== -->
<text class="tt" x="904.5" y="2960" dy=".35em" text-anchor="middle">Proton Temperature and <tspan class="m">T</tspan><tspan class="m" font-size="14" dy="4">e</tspan><tspan class="m" dy="-4">/T</tspan><tspan class="m" font-size="14" dy="4">p</tspan></text>
<path class="tk" d="M292.8 3202v-6M292.8 2979v6M467.6 3202v-6M467.6 2979v6M642.4 3202v-6M642.4 2979v6M817.2 3202v-6M817.2 2979v6M992 3202v-6M992 2979v6M1166.8 3202v-6M1166.8 2979v6M1341.6 3202v-6M1341.6 2979v6M1516.4 3202v-6M1516.4 2979v6M118 3023.6h6M1691 3023.6h-6M118 3068.2h6M1691 3068.2h-6M118 3112.8h6M1691 3112.8h-6M118 3157.4h6M1691 3157.4h-6"/>
<g class="ts" text-anchor="end">
<text x="108" y="2979" dy=".35em">0.5</text><text x="108" y="3023.6" dy=".35em">0.4</text><text x="108" y="3068.2" dy=".35em">0.3</text><text x="108" y="3112.8" dy=".35em">0.2</text><text x="108" y="3157.4" dy=".35em">0.1</text><text x="108" y="3202" dy=".35em">0.0</text>
</g>
<g class="ts" text-anchor="middle">
<text x="118" y="3219" dy=".35em">06/07 18:42</text><text x="292.8" y="3219" dy=".35em">06/07 18:43</text><text x="467.6" y="3219" dy=".35em">06/07 18:44</text><text x="642.4" y="3219" dy=".35em">06/07 18:45</text><text x="817.2" y="3219" dy=".35em">06/07 18:46</text><text x="992" y="3219" dy=".35em">06/07 18:47</text><text x="1166.8" y="3219" dy=".35em">06/07 18:48</text><text x="1341.6" y="3219" dy=".35em">06/07 18:49</text><text x="1516.4" y="3219" dy=".35em">06/07 18:50</text><text x="1691" y="3219" dy=".35em">06/07 18:51</text>
</g>
<text class="ts" transform="translate(58,3090.5) rotate(-90)" dy=".35em" text-anchor="middle">Tp(<tspan class="m" font-style="normal">10</tspan><tspan class="m" font-style="normal" font-size="10" dy="-6">6</tspan><tspan dy="6">K)</tspan></text>
<polyline class="l2" stroke="#00f" points="118,3125 292.8,3117 467.6,3116 642.4,3122 817.2,3120 992,3123 1166.8,3131 1341.6,3119 1516.4,3104 1691,3115"/>
<rect class="sp" x="118" y="2979" width="1573" height="223"/>
<rect x="125" y="2986" width="70" height="27" fill="#fff" stroke="#000" stroke-width="2"/>
<line x1="134" y1="2999" x2="157" y2="2999" stroke="#00f" stroke-width="2"/>
<text class="lg" x="172" y="2999" dy=".35em">Tp</text>
</g>
</svg>
</body></html>
